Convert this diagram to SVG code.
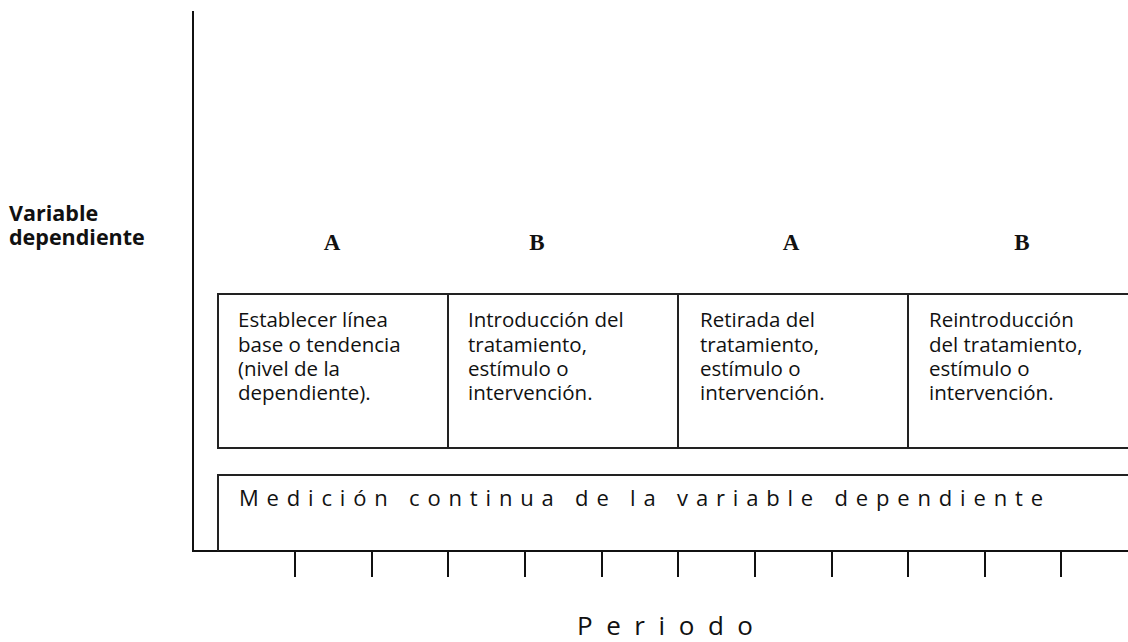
<svg xmlns="http://www.w3.org/2000/svg" width="1128" height="642" viewBox="0 0 1128 642">
<style>
.ax{stroke:#111;stroke-width:2;fill:none}
.bx{stroke:#222;stroke-width:2;fill:none}
.t{font-family:"Open Sans","Noto Sans",sans-serif;font-size:20.5px;fill:#111}
.h{font-family:"Liberation Serif",serif;font-size:23px;font-weight:bold;fill:#111;text-anchor:middle}
.yl{font-family:"Open Sans","Noto Sans",sans-serif;font-size:21.5px;font-weight:bold;fill:#111}
</style>
<rect width="1128" height="642" fill="#fff"/>
<g id="axes">
<line class="ax" x1="193" y1="11" x2="193" y2="552"/>
<line class="ax" x1="192" y1="551" x2="1128" y2="551"/>
</g>
<g id="ticks" class="ax">
<line x1="295" y1="551" x2="295" y2="577"/>
<line x1="372" y1="551" x2="372" y2="577"/>
<line x1="448" y1="551" x2="448" y2="577"/>
<line x1="525" y1="551" x2="525" y2="577"/>
<line x1="602" y1="551" x2="602" y2="577"/>
<line x1="678" y1="551" x2="678" y2="577"/>
<line x1="755" y1="551" x2="755" y2="577"/>
<line x1="832" y1="551" x2="832" y2="577"/>
<line x1="908" y1="551" x2="908" y2="577"/>
<line x1="985" y1="551" x2="985" y2="577"/>
<line x1="1061" y1="551" x2="1061" y2="577"/>
</g>
<g id="ylabel">
<text class="yl" x="9" y="221">Variable</text>
<text class="yl" x="9" y="245">dependiente</text>
</g>
<g id="headers">
<text class="h" x="332" y="250">A</text>
<text class="h" x="537" y="250">B</text>
<text class="h" x="791" y="250">A</text>
<text class="h" x="1022" y="250">B</text>
</g>
<g id="phase1">
<path class="bx" d="M1128 294 H218 V448 H1128"/>
<text class="t" x="238" y="327">Establecer línea</text>
<text class="t" x="238" y="351.5">base o tendencia</text>
<text class="t" x="238" y="376">(nivel de la</text>
<text class="t" x="238" y="400">dependiente).</text>
</g>
<g id="phase2">
<line class="bx" x1="448" y1="294" x2="448" y2="448"/>
<text class="t" x="468" y="327">Introducción del</text>
<text class="t" x="468" y="351.5">tratamiento,</text>
<text class="t" x="468" y="376">estímulo o</text>
<text class="t" x="468" y="400">intervención.</text>
</g>
<g id="phase3">
<line class="bx" x1="678" y1="294" x2="678" y2="448"/>
<text class="t" x="700" y="327">Retirada del</text>
<text class="t" x="700" y="351.5">tratamiento,</text>
<text class="t" x="700" y="376">estímulo o</text>
<text class="t" x="700" y="400">intervención.</text>
</g>
<g id="phase4">
<line class="bx" x1="908" y1="294" x2="908" y2="448"/>
<text class="t" x="929" y="327">Reintroducción</text>
<text class="t" x="929" y="351.5">del tratamiento,</text>
<text class="t" x="929" y="376">estímulo o</text>
<text class="t" x="929" y="400">intervención.</text>
</g>
<g id="measure">
<path class="bx" d="M1128 475 H218 V551"/>
<text class="t" x="239" y="506" style="font-size:22px" textLength="804" lengthAdjust="spacing">Medición continua de la variable dependiente</text>
</g>
<g id="xlabel">
<text class="t" x="577" y="635" style="font-size:26px" textLength="176" lengthAdjust="spacing">Periodo</text>
</g>
</svg>
